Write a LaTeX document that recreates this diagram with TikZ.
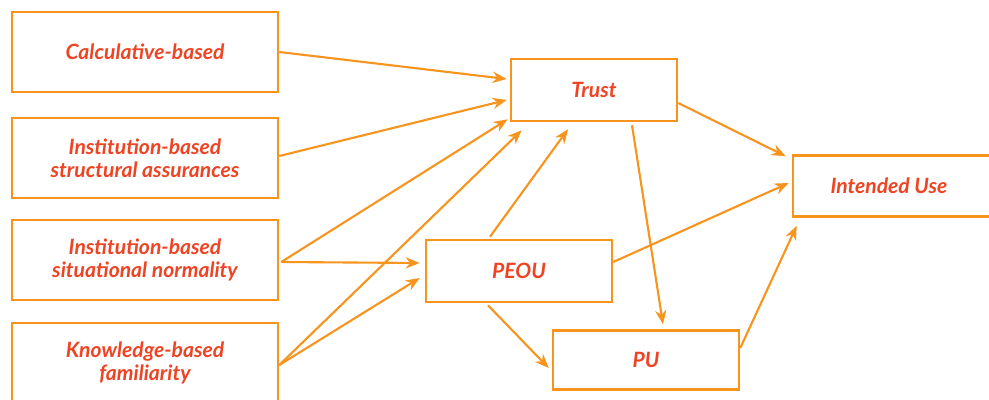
\documentclass[tikz,border=0pt]{standalone}
\usepackage{fontspec}
\setsansfont{Lato}
\usetikzlibrary{arrows.meta,calc}
\definecolor{boxline}{HTML}{F7941D}
\definecolor{boxtext}{HTML}{EF4424}
\tikzset{
  factor/.style={draw=boxline, line width=1.8pt, fill=white, align=center,
    text=boxtext, font=\sffamily\bfseries\itshape\fontsize{15}{16.5}\selectfont},
  link/.style={draw=boxline, line width=1.5pt, -{Stealth[length=10pt,width=8pt]}}
}
\begin{document}
\begin{tikzpicture}[x=0.025cm,y=-0.025cm]
\useasboundingbox (0,0) rectangle (989,400);
\clip (0,0) rectangle (989,400);
\node[factor, minimum width=6.65cm, minimum height=2cm] (calc) at (145,52) {Calculative-based};
\node[factor, minimum width=6.65cm, minimum height=2cm] (struct) at (145,158) {Institution-based\\structural assurances};
\node[factor, minimum width=6.65cm, minimum height=2cm] (normal) at (145,260) {Institution-based\\situational normality};
\node[factor, minimum width=6.65cm, minimum height=2cm] (famil) at (145,363) {Knowledge-based\\familiarity};
\node[factor, minimum width=4.15cm, minimum height=1.55cm] (trust) at (594,90) {Trust};
\node[factor, minimum width=4.65cm, minimum height=1.55cm] (peou) at (519,271) {PEOU};
\node[factor, minimum width=4.65cm, minimum height=1.475cm] (pu) at (646,360) {PU};
\node[factor, minimum width=5.2cm, minimum height=1.525cm] (use) at (897,186) {\hspace*{-0.4cm}Intended Use};
% antecedents of trust
\draw[link] (calc.east) -- ($(trust.west)+(-3,-11)$);
\draw[link] ($(struct.east)+(0,-2)$) -- ($(trust.west)+(-3,10)$);
\draw[link] ($(normal.east)+(2,2)$) -- ($(trust.south west)+(-2,-3)$);
\draw[link] ($(normal.east)+(2,2)$) -- ($(peou.west)+(-5,-8)$);
\draw[link] ($(famil.east)+(0,2)$) -- ($(trust.south west)+(12,8)$);
\draw[link] ($(famil.east)+(0,2)$) -- ($(peou.west)+(-5,7)$);
% TAM part
\draw[link] ($(peou.north)+(-29,-2)$) -- ($(trust.south)+(-26,7)$);
\draw[link] ($(trust.south)+(38,3)$) -- ($(pu.north)+(17,-5)$);
\draw[link] ($(peou.south)+(-31,2)$) -- ($(pu.west)+(-3,8)$);
\draw[link] ($(trust.east)+(0,13)$) -- ($(use.north west)+(-6,2)$);
\draw[link] ($(peou.east)+(0,-9)$) -- ($(use.west)+(-3,-3)$);
\draw[link] ($(pu.east)+(0,-12)$) -- ($(use.south west)+(5,8)$);
\end{tikzpicture}
\end{document}
